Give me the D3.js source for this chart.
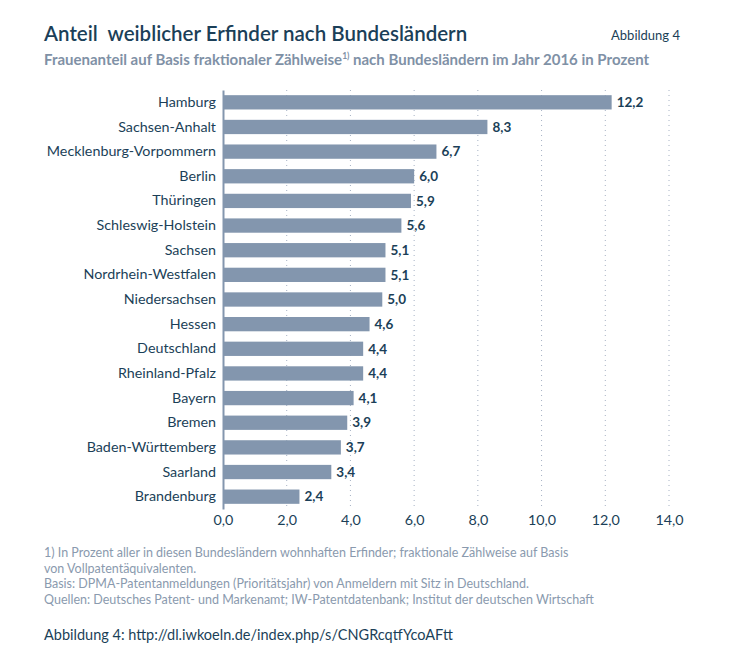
<!doctype html>
<html lang="de">
<head>
    <meta charset="UTF-8">
    <title>Anteil weiblicher Erfinder</title>
    <script src="https://cdn.jsdelivr.net/npm/d3@7"></script>
    <style>
        body { margin: 0; background: #fff; }
        text { font-family: Lato, "Noto Sans", sans-serif; }
    </style>
</head>
<body>
    <script>
        var laender = ["Hamburg", "Sachsen-Anhalt", "Mecklenburg-Vorpommern", "Berlin", "Thüringen",
                "Schleswig-Holstein", "Sachsen", "Nordrhein-Westfalen", "Niedersachsen", "Hessen",
                "Deutschland", "Rheinland-Pfalz", "Bayern", "Bremen", "Baden-Württemberg", "Saarland", "Brandenburg"],
            anteil = [12.2, 8.3, 6.7, 6.0, 5.9, 5.6, 5.1, 5.1, 5.0, 4.6, 4.4, 4.4, 4.1, 3.9, 3.7, 3.4, 2.4],
            ticks = [0, 2, 4, 6, 8, 10, 12, 14],
            fussnoten = [
                "1) In Prozent aller in diesen Bundesländern wohnhaften Erfinder; fraktionale Zählweise auf Basis",
                "von Vollpatentäquivalenten.",
                "Basis: DPMA-Patentanmeldungen (Prioritätsjahr) von Anmeldern mit Sitz in Deutschland.",
                "Quellen: Deutsches Patent- und Markenamt; IW-Patentdatenbank; Institut der deutschen Wirtschaft"
            ];

        var width = 747,
            height = 667,
            dark = "#1b3f58",
            grey = "#7f91a6",
            fmt = function(v){ return d3.format(".1f")(v).replace(".", ","); };

        var svg = d3.select("body").append("svg")
            .attr("width", width)
            .attr("height", height);

        var x = d3.scaleLinear().domain([0, 14]).range([223, 669]);
        var y = d3.scaleBand().domain(laender).range([90, 509]).paddingInner(0.42).paddingOuter(0.21);

        // titles
        svg.append("text").attr("x", 44).attr("y", 41)
            .attr("font-size", 20.5).attr("font-weight", 600).attr("fill", dark)
            .style("white-space", "pre")
            .text("Anteil  weiblicher Erfinder nach Bundesländern");
        svg.append("text").attr("x", 680).attr("y", 40).attr("text-anchor", "end")
            .attr("font-size", 13).attr("fill", dark).text("Abbildung 4");
        var sub = svg.append("text").attr("x", 44).attr("y", 65)
            .attr("font-size", 15).attr("font-weight", 700).attr("fill", grey);
        sub.append("tspan").text("Frauenanteil auf Basis fraktionaler Zählweise");
        sub.append("tspan").attr("font-size", 8.5).attr("dy", -6).text("1)");
        sub.append("tspan").attr("dy", 6).text(" nach Bundesländern im Jahr 2016 in Prozent");

        // grid
        svg.selectAll("line.grid")
            .data(ticks.slice(1))
            .enter().append("line")
            .attr("class", "grid")
            .attr("x1", function(d){ return x(d); })
            .attr("x2", function(d){ return x(d); })
            .attr("y1", 90).attr("y2", 509)
            .attr("stroke", "#a6b2c4")
            .attr("stroke-width", 1)
            .attr("stroke-dasharray", "1,4");

        // bars
        svg.selectAll("rect.bar")
            .data(anteil)
            .enter().append("rect")
            .attr("class", "bar")
            .attr("x", x(0))
            .attr("y", function(d, i){ return y(laender[i]); })
            .attr("width", function(d){ return x(d) - x(0); })
            .attr("height", y.bandwidth())
            .attr("fill", "#8396ae");

        svg.selectAll("text.val")
            .data(anteil)
            .enter().append("text")
            .attr("class", "val")
            .attr("x", function(d){ return x(d) + 5; })
            .attr("y", function(d, i){ return y(laender[i]) + y.bandwidth() / 2; })
            .attr("dy", "0.35em")
            .attr("font-size", 13.5).attr("font-weight", 700).attr("fill", dark)
            .text(fmt);

        // y axis
        var yAxis = svg.append("g")
            .attr("transform", "translate(" + x(0) + ",0)")
            .call(d3.axisLeft(y).tickSize(0).tickPadding(7));
        yAxis.select(".domain").attr("stroke", "#8396ae").attr("stroke-width", 2);
        yAxis.selectAll("text").attr("font-size", 14.3).attr("fill", dark)
            .style("font-family", "Lato, 'Noto Sans', sans-serif");

        // x axis
        var xAxis = svg.append("g")
            .attr("transform", "translate(0,509)")
            .call(d3.axisBottom(x).tickValues(ticks).tickSize(0).tickPadding(6).tickFormat(fmt));
        xAxis.select(".domain").remove();
        xAxis.selectAll("text").attr("font-size", 14.3).attr("fill", dark)
            .style("font-family", "Lato, 'Noto Sans', sans-serif");

        // footnotes
        svg.selectAll("text.fn")
            .data(fussnoten)
            .enter().append("text")
            .attr("class", "fn")
            .attr("x", 44)
            .attr("y", function(d, i){ return 557 + i * 15.7; })
            .attr("font-size", 12.5).attr("fill", "#8a9aae")
            .text(function(d){ return d; });

        svg.append("text").attr("x", 44).attr("y", 640)
            .attr("font-size", 14.5).attr("fill", dark)
            .text("Abbildung 4: http://dl.iwkoeln.de/index.php/s/CNGRcqtfYcoAFtt");
    </script>
</body>
</html>
